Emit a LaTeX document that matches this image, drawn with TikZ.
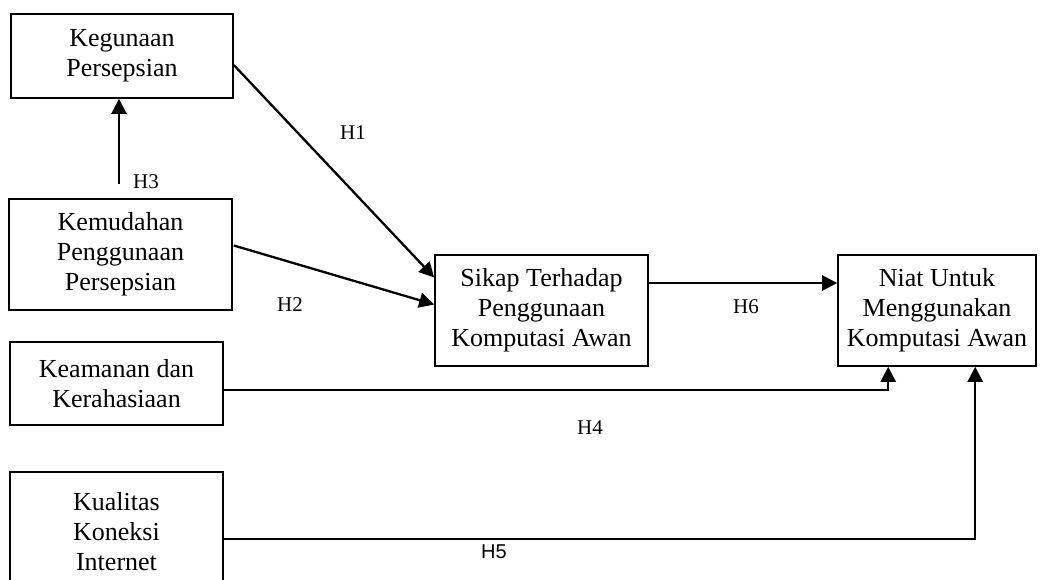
\documentclass[tikz,border=0pt]{standalone}
\usepackage{fontspec}
\setmainfont{Liberation Serif}
\newfontfamily\labelsans{Liberation Sans}
\usetikzlibrary{arrows.meta,calc}
\tikzset{
  box/.style={draw, line width=1.6pt, inner sep=0pt, align=center,
    font=\fontsize{26}{30}\selectfont},
  link/.style={line width=2.3pt, -{Triangle[length=15pt,width=15pt]}},
  hlabel/.style={font=\fontsize{21}{24}\selectfont, inner sep=0pt},
}
\begin{document}
\begin{tikzpicture}[x=1pt,y=-1pt]
\useasboundingbox (0,0) rectangle (1040,579);
\clip (0,0) rectangle (1040,579);
\node[box, minimum width=222pt, minimum height=84pt] (keg) at (122,56) {Kegunaan\\Persepsian};
\node[box, minimum width=223pt, minimum height=111pt] (kem) at (120.5,254.5) {Kemudahan\\Penggunaan\\Persepsian};
\node[box, minimum width=213pt, minimum height=111pt] (sik) at (541.5,310.5) {Sikap Terhadap\\Penggunaan\\Komputasi Awan};
\node[box, minimum width=198pt, minimum height=111pt] (nia) at (937,310.5) {Niat Untuk\\Menggunakan\\Komputasi Awan};
\node[box, minimum width=213pt, minimum height=83pt] (kea) at (116.5,383.5) {Keamanan dan\\Kerahasiaan};
\node[box, minimum width=213pt, minimum height=120pt] (kua) at (116.5,532) {Kualitas\\Koneksi\\Internet};

\coordinate (h3s) at ($(kem.north)+(-1.5,-14)$);
\draw[link] (h3s) -- (h3s |- keg.south);
\draw[link] ($(keg.east)+(0,9)$) -- ($(sik.west)+(0,-33)$);
\draw[link] ($(kem.east)+(1,-9)$) -- ($(sik.west)+(0,-6)$);
\draw[link] ($(sik.east)+(0,-27.5)$) -- ($(nia.west)+(0,-27.5)$);
\coordinate (h4e) at ($(nia.south west)+(51,0)$);
\draw[link] ($(kea.east)+(0,6.5)$) -| (h4e);
\coordinate (h5e) at ($(nia.south west)+(138,0)$);
\draw[link] ($(kua.east)+(0,7)$) -| (h5e);

\node[hlabel] (l1) at (353,133) {H1};
\node[hlabel] (l2) at (290,305) {H2};
\node[hlabel] (l3) at (146,182) {H3};
\node[hlabel] (l4) at (590,428) {H4};
\node[hlabel, font=\labelsans\fontsize{20}{24}\selectfont] (l5) at (494,552) {H5};
\node[hlabel] (l6) at (746,307) {H6};
\end{tikzpicture}
\end{document}
